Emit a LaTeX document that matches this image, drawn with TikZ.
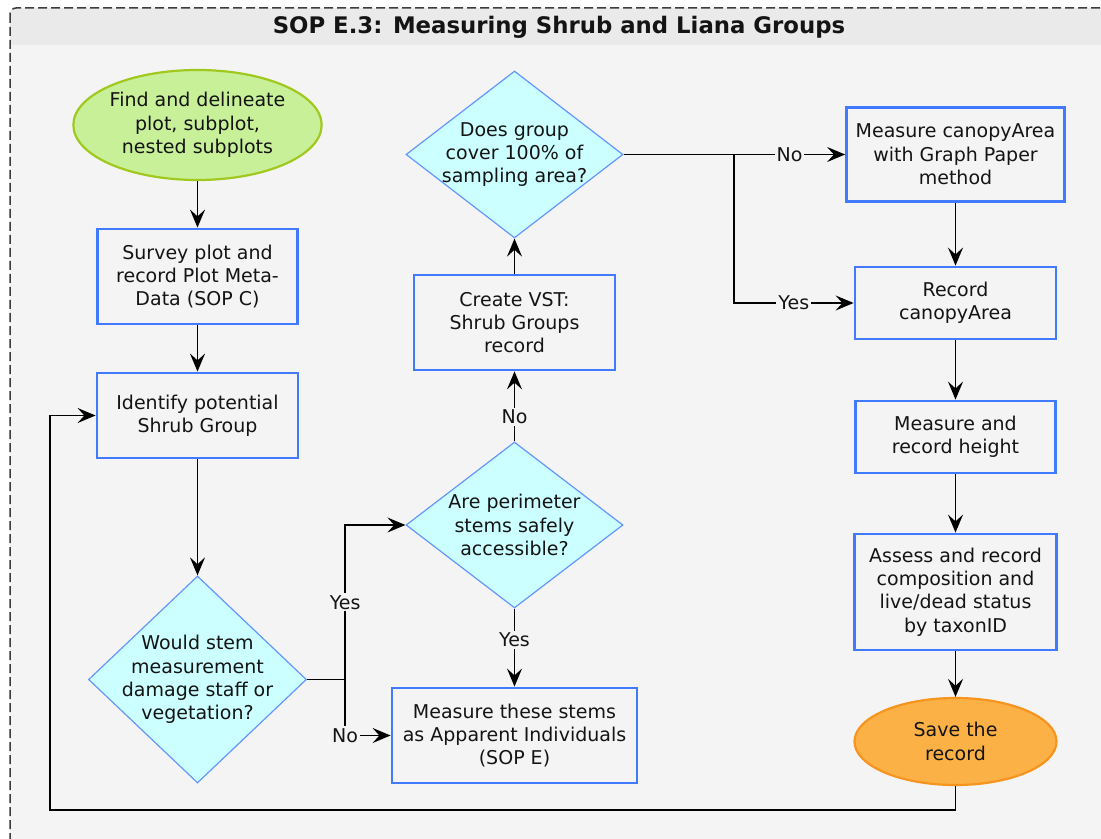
\documentclass[tikz,border=0pt]{standalone}
\usepackage{fontspec}
\setmainfont{DejaVu Sans}
\usepackage{xcolor}
\usetikzlibrary{shapes.geometric,arrows.meta}

\definecolor{bgcol}{RGB}{244,244,244}
\definecolor{bandcol}{RGB}{234,234,234}
\definecolor{framecol}{RGB}{60,60,60}
\definecolor{boxcol}{RGB}{66,122,255}
\definecolor{diacol}{RGB}{100,150,255}
\definecolor{diafill}{RGB}{204,255,255}
\definecolor{greenfill}{RGB}{200,240,152}
\definecolor{greenline}{RGB}{160,200,30}
\definecolor{orangefill}{RGB}{251,177,70}
\definecolor{orangeline}{RGB}{247,148,30}
\definecolor{txtcol}{RGB}{20,20,20}

\begin{document}
\begin{tikzpicture}[x=0.5pt,y=-0.5pt,
  >={Stealth[length=9pt,width=7.5pt,inset=3.4pt]},
  every node/.style={font=\fontsize{9.5}{11.7}\selectfont, text=txtcol, align=center},
  box/.style={rectangle, draw=boxcol, line width=1.4pt, fill=bgcol, inner sep=0pt},
  decision/.style={diamond, draw=diacol, line width=0.6pt, fill=diafill, inner sep=0pt},
  terminal/.style={ellipse, line width=1.1pt, inner sep=0pt},
  flow/.style={->, line width=0.85pt, black},
  tag/.style={fill=bgcol, inner sep=1pt}]

\useasboundingbox (0,0) rectangle (1101,839);
\clip (0,0) rectangle (1101,839);

% frame and title band
\fill[white] (0,0) rectangle (1101,839);
\fill[bgcol, rounded corners=3pt] (10,8) rectangle (1130,870);
\begin{scope}
\clip[rounded corners=3pt] (10,8) rectangle (1130,870);
\fill[bandcol] (10,8) rectangle (1130,45);
\end{scope}
\draw[framecol, line width=0.75pt, dash pattern=on 4.5pt off 2pt, rounded corners=3pt] (10,8) rectangle (1130,870);

\node[font=\bfseries\fontsize{11.4}{13}\selectfont] (title) at (559,27) {SOP E.3: Measuring Shrub and Liana Groups};

% left column
\node[terminal, fill=greenfill, draw=greenline, minimum width=119.5pt, minimum height=55pt] (start) at (197.5,125) {Find and delineate\\plot, subplot,\\nested subplots};
\node[box, minimum width=100pt, minimum height=47.5pt] (survey) at (197.5,276.5) {Survey plot and\\record Plot Meta-\\Data (SOP C)};
\node[box, minimum width=100.5pt, minimum height=42.5pt] (identify) at (197.5,415.5) {Identify potential\\Shrub Group};
\node[decision, minimum width=109pt, minimum height=103.5pt] (stem) at (197.5,679.5) {};
\node at (stem) {Would stem\\measurement\\damage staff or\\vegetation?};

% middle column
\node[decision, minimum width=108.5pt, minimum height=83pt] (access) at (514.5,525) {};
\node at (access) {Are perimeter\\stems safely\\accessible?};
\node[box, minimum width=122.5pt, minimum height=47.5pt] (measind) at (514.5,735.5) {Measure these stems\\as Apparent Individuals\\(SOP E)};
\node[box, minimum width=100.5pt, minimum height=47.5pt] (vst) at (514.5,322.5) {Create VST:\\Shrub Groups\\record};
\node[decision, minimum width=108.5pt, minimum height=83.5pt] (cover) at (514.5,154.5) {};
\node at (cover) {Does group\\cover 100\% of\\sampling area?};

% right column
\node[box, minimum width=109pt, minimum height=47pt] (graph) at (955.5,154.5) {Measure canopyArea\\with Graph Paper\\method};
\node[box, minimum width=100.5pt, minimum height=36pt] (recarea) at (955.5,303) {Record\\canopyArea};
\node[box, minimum width=100pt, minimum height=36pt] (height) at (955.5,437) {Measure and\\record height};
\node[box, minimum width=101pt, minimum height=58pt] (assess) at (955.5,592) {Assess and record\\composition and\\live/dead status\\by taxonID};
\node[terminal, fill=orangefill, draw=orangeline, minimum width=101pt, minimum height=43.5pt] (save) at (955.5,741.5) {Save the\\record};

\coordinate (fork) at (734,154.5);
\coordinate (loopcorner) at (50,810);

% connectors
\draw[flow] (start) -- (survey);
\draw[flow] (survey) -- (identify);
\draw[flow] (identify) -- (stem);
\draw[flow] (stem.east) -- ++(38,0) |- node[tag, pos=0.25]{Yes} (access.west);
\draw[flow] (stem.east) -- ++(38,0) |- node[tag]{No} (measind.west);
\draw[flow] (access.south) -- node[tag, pos=0.4]{Yes} (measind.north);
\draw[flow] (access.north) -- node[tag, pos=0.35]{No} (vst.south);
\draw[flow] (vst) -- (cover);
\draw[flow] (cover.east) -- (fork) -- node[tag]{No} (graph.west);
\draw[flow] (fork) |- node[tag, pos=0.75]{Yes} (recarea.west);
\draw[flow] (graph) -- (recarea);
\draw[flow] (recarea) -- (height);
\draw[flow] (height) -- (assess);
\draw[flow] (assess) -- (save);
\draw[flow] (save.south) |- (loopcorner) |- (identify.west);

\end{tikzpicture}
\end{document}
